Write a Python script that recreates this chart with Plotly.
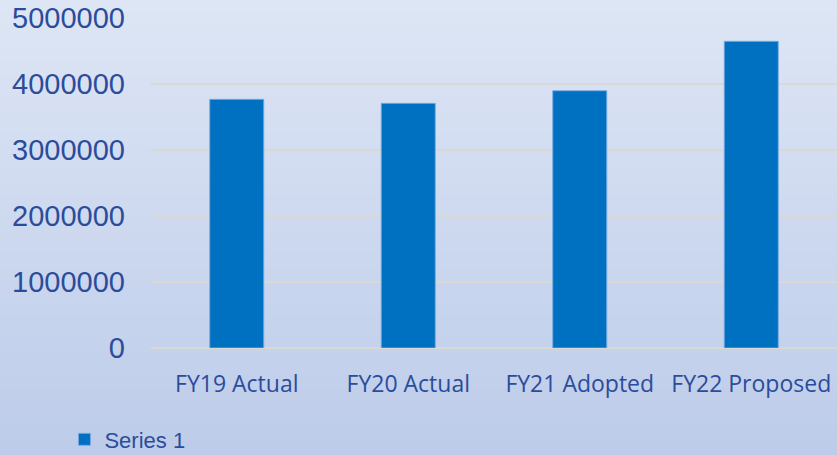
import base64, struct, zlib
import plotly.graph_objects as go

categories = ["FY19 Actual", "FY20 Actual", "FY21 Adopted", "FY22 Proposed"]
values = [3768000, 3707000, 3898000, 4647000]
series_name = "Series 1"
y_ticks = [0, 1000000, 2000000, 3000000, 4000000, 5000000]

W, H = 837, 455
L, R, T, B = 151, 0, 18, 107
pw, ph = W - L - R, H - T - B

# vertical gradient background as a small PNG
top = (222, 230, 245)
bot = (189, 204, 234)
n = 64
raw = b""
for i in range(n):
    f = i / (n - 1)
    c = tuple(int(round(top[k] + (bot[k] - top[k]) * f)) for k in range(3))
    raw += b"\x00" + bytes(c)
def chunk(t, d):
    return struct.pack(">I", len(d)) + t + d + struct.pack(">I", zlib.crc32(t + d) & 0xffffffff)
png = b"\x89PNG\r\n\x1a\n" + chunk(b"IHDR", struct.pack(">IIBBBBB", 1, n, 8, 2, 0, 0, 0)) \
    + chunk(b"IDAT", zlib.compress(raw)) + chunk(b"IEND", b"")
uri = "data:image/png;base64," + base64.b64encode(png).decode()

txt = "#2B4C9B"

fig = go.Figure(go.Bar(
    x=categories, y=values, name=series_name,
    marker=dict(color="#0070C0", line=dict(color="rgba(120,170,230,0.9)", width=1)),
    width=0.315, showlegend=True,
))

fig.update_layout(
    width=W, height=H,
    margin=dict(l=L, r=R, t=T, b=B, pad=0),
    paper_bgcolor="#D0DBF0", plot_bgcolor="rgba(0,0,0,0)",
    images=[dict(source=uri, xref="paper", yref="paper",
                 x=-L / pw, y=1 + T / ph, sizex=W / pw, sizey=H / ph,
                 sizing="stretch", xanchor="left", yanchor="top", layer="below")],
    showlegend=True,
    legend=dict(orientation="h", xref="container", yref="container",
                x=0.077, y=0.034, xanchor="left", yanchor="middle",
                font=dict(family="Liberation Sans, Arial", size=22, color=txt),
                bgcolor="rgba(0,0,0,0)"),
    xaxis=dict(showgrid=False, showline=False, ticks="",
               tickfont=dict(family="Open Sans", size=23, color=txt),
               ticklabelstandoff=20),
    yaxis=dict(range=[0, 5000000], tickvals=y_ticks, ticktext=[str(v) for v in y_ticks],
               showgrid=True, gridcolor="#DAD8D2", gridwidth=2,
               zeroline=True, zerolinecolor="#DAD8D2", zerolinewidth=2,
               showline=False, ticks="",
               tickfont=dict(family="Liberation Sans, Arial", size=29, color=txt),
               ticklabelstandoff=25),
    bargap=0.685,
)

fig.write_html("out.html")
